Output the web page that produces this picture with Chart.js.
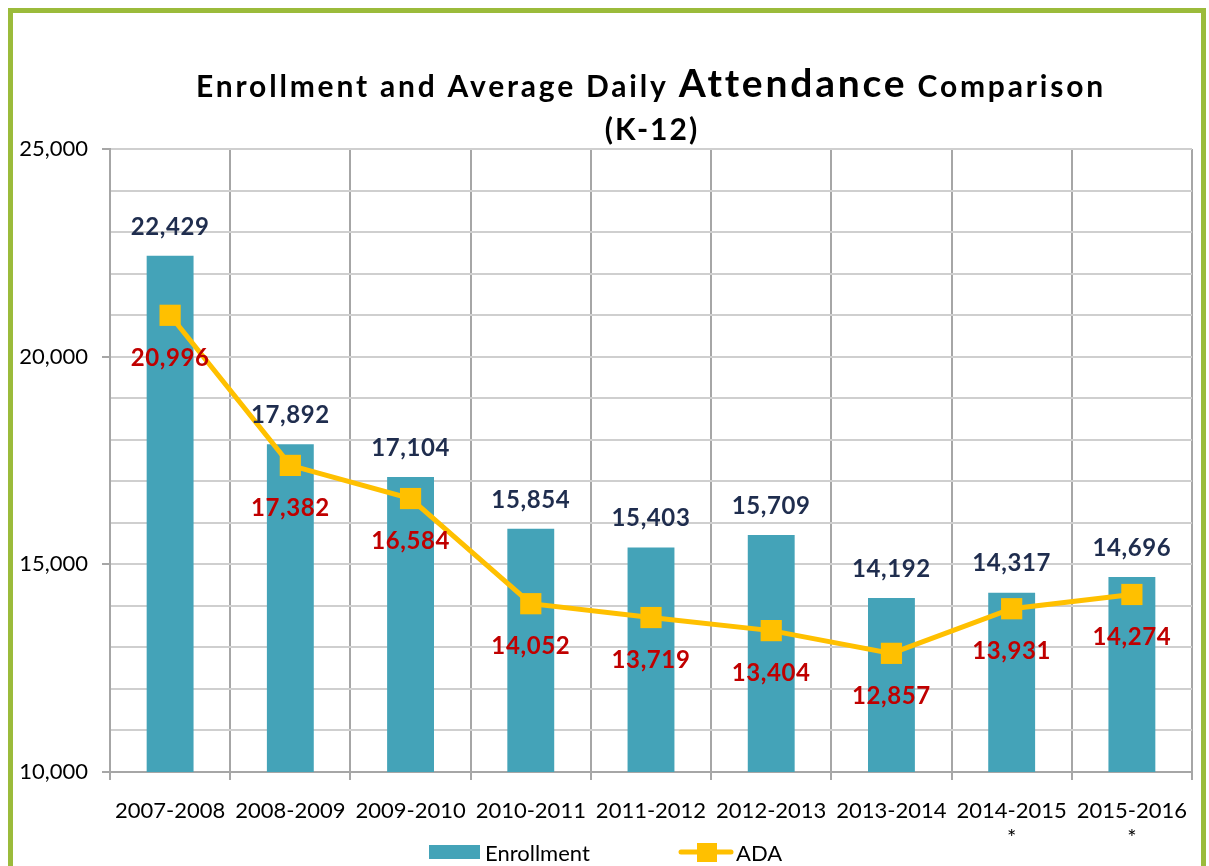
<!DOCTYPE html>
<html>
<head>
<meta charset="utf-8">
<script src="https://cdn.jsdelivr.net/npm/chart.js@4.4.1/dist/chart.umd.min.js"></script>
<style>
  body { margin: 0; background: #fff; overflow: hidden; }
  #wrap { position: relative; width: 1209px; height: 866px; }
  #frame { position: absolute; left: 8px; top: 8px; width: 1188px; height: 900px; border: 5px solid #9BBB3B; box-sizing: content-box; }
  canvas { position: absolute; left: 0; top: 0; }
</style>
</head>
<body>
<div id="wrap">
  <div id="frame"></div>
  <canvas id="myChart" width="1209" height="866"></canvas>
</div>
<script>
let years = ['2007-2008', '2008-2009', '2009-2010', '2010-2011', '2011-2012',
             '2012-2013', '2013-2014', ['2014-2015', '*'], ['2015-2016', '*']];
let enrollment = [22429, 17892, 17104, 15854, 15403, 15709, 14192, 14317, 14696];
let ada = [20996, 17382, 16584, 14052, 13719, 13404, 12857, 13931, 14274];
let yTicksShown = [10000, 15000, 20000, 25000];

let fontFam = 'Lato, "Open Sans", sans-serif';

// title with a bigger "Attendance" word, like the original
let titlePlugin = {
    id: 'mixedTitle',
    afterDraw: function (chart) {
        let ctx = chart.ctx;
        let parts = [
            { t: 'Enrollment and Average Daily ', s: 30 },
            { t: 'Attendance', s: 39 },
            { t: ' Comparison', s: 30 }
        ];
        ctx.save();
        ctx.fillStyle = '#000';
        ctx.textBaseline = 'alphabetic';
        ctx.textAlign = 'left';
        ctx.letterSpacing = '2.8px';
        let total = 0;
        parts.forEach(function (p) {
            ctx.font = 'bold ' + p.s + 'px ' + fontFam;
            p.w = ctx.measureText(p.t).width;
            total += p.w;
        });
        let x = 651 - total / 2;
        parts.forEach(function (p) {
            ctx.font = 'bold ' + p.s + 'px ' + fontFam;
            ctx.fillText(p.t, x, 97);
            x += p.w;
        });
        ctx.font = 'bold 30px ' + fontFam;
        ctx.letterSpacing = '2px';
        ctx.textAlign = 'center';
        ctx.fillText('(K-12)', 652, 140);
        ctx.restore();
    }
};

// value labels above bars and below the line points
let labelPlugin = {
    id: 'valueLabels',
    afterDatasetsDraw: function (chart) {
        let ctx = chart.ctx;
        ctx.save();
        ctx.font = 'bold 24px ' + fontFam;
        ctx.letterSpacing = '0.6px';
        ctx.textAlign = 'center';
        ctx.textBaseline = 'middle';
        chart.data.datasets.forEach(function (ds, i) {
            let meta = chart.getDatasetMeta(i);
            meta.data.forEach(function (el, j) {
                let txt = ds.data[j].toLocaleString('en-US');
                if (ds.type === 'line') {
                    ctx.fillStyle = '#C00000';
                    ctx.fillText(txt, el.x, el.y + 43);
                } else {
                    ctx.fillStyle = '#1F2D4E';
                    ctx.fillText(txt, el.x, el.y - 29);
                }
            });
        });
        ctx.restore();
    }
};

// bottom legend: box for bars, line + square for ADA
let legendPlugin = {
    id: 'bottomLegend',
    afterDraw: function (chart) {
        let ctx = chart.ctx;
        let dsBar = chart.data.datasets[0];
        let dsLine = chart.data.datasets[1];
        ctx.save();
        ctx.font = '22px ' + fontFam;
        ctx.textBaseline = 'middle';
        ctx.textAlign = 'left';
        ctx.fillStyle = dsBar.backgroundColor;
        ctx.fillRect(429, 845, 51, 14);
        ctx.fillStyle = '#000';
        ctx.fillText(dsBar.label, 485, 854);
        ctx.strokeStyle = dsLine.borderColor;
        ctx.lineWidth = 5;
        ctx.lineCap = 'round';
        ctx.beginPath();
        ctx.moveTo(681, 852);
        ctx.lineTo(731, 852);
        ctx.stroke();
        ctx.fillStyle = dsLine.borderColor;
        ctx.fillRect(697, 843, 20, 19);
        ctx.fillStyle = '#000';
        ctx.fillText(dsLine.label, 736, 854);
        ctx.restore();
    }
};

let ctx = document.getElementById('myChart').getContext('2d');
let myChart = new Chart(ctx, {
    type: 'bar',
    data: {
        labels: years,
        datasets: [{
            type: 'bar',
            label: 'Enrollment',
            data: enrollment,
            backgroundColor: '#44A3B8',
            barPercentage: 0.39,
            categoryPercentage: 1.0,
            order: 2
        }, {
            type: 'line',
            label: 'ADA',
            data: ada,
            borderColor: '#FFC000',
            backgroundColor: '#FFC000',
            borderWidth: 5,
            pointStyle: 'rect',
            pointRadius: 15,
            pointHoverRadius: 15,
            pointBorderWidth: 0,
            tension: 0,
            order: 1
        }]
    },
    options: {
        responsive: false,
        animation: false,
        layout: { padding: { top: 149, right: 17, left: 0, bottom: 0 } },
        plugins: {
            legend: { display: false },
            title: { display: false },
            tooltip: { enabled: false }
        },
        scales: {
            x: {
                grid: {
                    offset: true,
                    color: '#A6A6A6',
                    lineWidth: 2,
                    tickLength: 8,
                    tickColor: '#A6A6A6'
                },
                border: { color: '#A6A6A6', width: 2 },
                ticks: {
                    color: '#000',
                    font: { family: fontFam, size: 22, lineHeight: 1.25 },
                    padding: 17,
                    maxRotation: 0,
                    autoSkip: false
                },
                afterFit: function (scale) { scale.height = 94; }
            },
            y: {
                min: 10000,
                max: 25000,
                ticks: {
                    stepSize: 1000,
                    color: '#000',
                    font: { family: fontFam, size: 22 },
                    padding: 14,
                    callback: function (v) {
                        return yTicksShown.indexOf(v) >= 0 ? v.toLocaleString('en-US') : '';
                    }
                },
                grid: {
                    color: '#CFCFCF',
                    lineWidth: 2,
                    tickLength: 8,
                    tickColor: function (c) {
                        return yTicksShown.indexOf(c.tick.value) >= 0 ? '#A6A6A6' : 'rgba(0,0,0,0)';
                    }
                },
                border: { color: '#A6A6A6', width: 2 },
                afterFit: function (scale) { scale.width = 110; }
            }
        }
    },
    plugins: [titlePlugin, labelPlugin, legendPlugin]
});
</script>
</body>
</html>
